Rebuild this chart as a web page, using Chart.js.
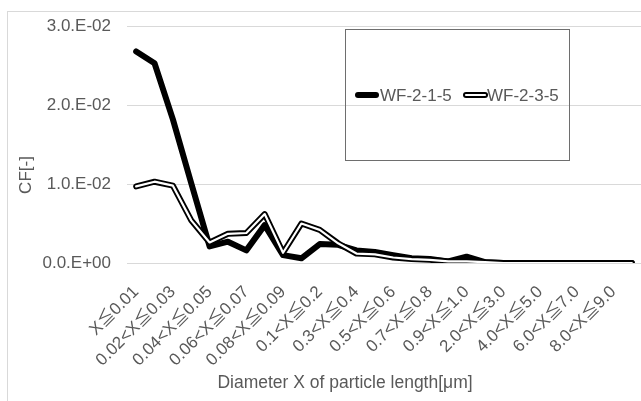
<!DOCTYPE html>
<html>
<head>
<meta charset="utf-8">
<script src="https://cdn.jsdelivr.net/npm/chart.js@4.4.1/dist/chart.umd.min.js"></script>
<style>
  html, body { margin: 0; padding: 0; background: #fff; }
  #wrap { position: relative; width: 641px; height: 401px; }
</style>
</head>
<body>
<div id="wrap"><canvas id="chart"></canvas></div>
<script>
const categories = [
  'X≦0.01', '0.01<X≦0.02', '0.02<X≦0.03', '0.03<X≦0.04', '0.04<X≦0.05',
  '0.05<X≦0.06', '0.06<X≦0.07', '0.07<X≦0.08', '0.08<X≦0.09', '0.09<X≦0.1',
  '0.1<X≦0.2', '0.2<X≦0.3', '0.3<X≦0.4', '0.4<X≦0.5', '0.5<X≦0.6',
  '0.6<X≦0.7', '0.7<X≦0.8', '0.8<X≦0.9', '0.9<X≦1.0', '1.0<X≦2.0',
  '2.0<X≦3.0', '3.0<X≦4.0', '4.0<X≦5.0', '5.0<X≦6.0', '6.0<X≦7.0',
  '7.0<X≦8.0', '8.0<X≦9.0', '9.0<X≦10.0'
];
const wf215 = [
  0.0268, 0.0253, 0.0182, 0.0101, 0.0021, 0.0027, 0.0016, 0.0048, 0.0010, 0.0006,
  0.0024, 0.0023, 0.0016, 0.0014, 0.0010, 0.0006, 0.0005, 0.0002, 0.0008, 0.0001,
  0, 0, 0, 0, 0, 0, 0, 0
];
const wf235 = [
  0.0097, 0.0103, 0.0098, 0.0054, 0.0026, 0.0037, 0.0038, 0.0062, 0.0013, 0.0050,
  0.0042, 0.0025, 0.0012, 0.0011, 0.0007, 0.0005, 0.0004, 0.0002, 0.0002, 0.0001,
  0, 0, 0, 0, 0, 0, 0, 0
];
const yTicks = [0, 0.01, 0.02, 0.03];
const seriesNames = ['WF-2-1-5', 'WF-2-3-5'];

const FONT = '"Liberation Sans", Arial, "Noto Sans CJK JP", sans-serif';
const GREY = '#595959';

function fmtExp(v){
  if(v === 0) return '0.0.E+00';
  const [m, e] = v.toExponential(1).split('e');
  const n = parseInt(e, 10);
  return m + '.E' + (n < 0 ? '-' : '+') + String(Math.abs(n)).padStart(2, '0');
}

// titles, frame and legend box drawn on top of the chart
const extras = {
  id: 'extras',
  afterDraw(chart){
    const ctx = chart.ctx;
    ctx.save();
    ctx.strokeStyle = '#d9d9d9';
    ctx.lineWidth = 1;
    ctx.strokeRect(7.5, 11.5, 700, 500);

    ctx.fillStyle = GREY;
    ctx.font = '17.5px ' + FONT;
    ctx.textAlign = 'center';
    ctx.textBaseline = 'middle';
    ctx.fillText('Diameter X of particle length[μm]', 345, 383);
    ctx.save();
    ctx.translate(26, 175);
    ctx.rotate(-Math.PI / 2);
    ctx.font = '17px ' + FONT;
    ctx.fillText('CF[-]', 0, 0);
    ctx.restore();

    // legend
    ctx.strokeStyle = '#6e6e6e';
    ctx.strokeRect(345.5, 29.5, 224, 131);
    ctx.lineCap = 'round';
    ctx.beginPath(); ctx.moveTo(358, 95); ctx.lineTo(376, 95);
    ctx.strokeStyle = '#000'; ctx.lineWidth = 6; ctx.stroke();
    ctx.beginPath(); ctx.moveTo(466, 95); ctx.lineTo(485, 95);
    ctx.lineWidth = 6; ctx.stroke();
    ctx.strokeStyle = '#fff'; ctx.lineWidth = 2.2; ctx.stroke();
    ctx.fillStyle = GREY;
    ctx.font = '17px ' + FONT;
    ctx.textAlign = 'left';
    ctx.fillText(seriesNames[0], 380, 96);
    ctx.fillText(seriesNames[1], 487, 96);
    ctx.restore();
  }
};

const lineBase = { pointRadius: 0, tension: 0, borderCapStyle: 'round', borderJoinStyle: 'round', fill: false };

new Chart(document.getElementById('chart'), {
  type: 'line',
  data: {
    labels: categories,
    datasets: [
      Object.assign({ label: seriesNames[0], data: wf215, borderColor: '#000', borderWidth: 6, order: 3 }, lineBase),
      Object.assign({ label: seriesNames[1] + ' outline', data: wf235, borderColor: '#000', borderWidth: 6, order: 2 }, lineBase),
      Object.assign({ label: seriesNames[1], data: wf235, borderColor: '#fff', borderWidth: 2.2, order: 1 }, lineBase)
    ]
  },
  options: {
    responsive: true,
    maintainAspectRatio: false,
    animation: false,
    layout: { padding: { top: 25, right: 0, bottom: 0, left: 0 } },
    plugins: { legend: { display: false }, tooltip: { enabled: false } },
    scales: {
      x: {
        offset: true,
        grid: { display: false },
        border: { display: false },
        ticks: {
          autoSkip: false,
          minRotation: 45,
          maxRotation: 45,
          padding: 11,
          color: GREY,
          font: { family: FONT, size: 17 },
          callback: (v, i) => i % 2 === 0 ? categories[i] : ''
        },
        afterFit: s => { s.height = 138; s.paddingLeft = 0; s.paddingRight = 0; }
      },
      y: {
        min: 0,
        max: 0.03,
        afterBuildTicks: s => { s.ticks = yTicks.map(v => ({ value: v })); },
        grid: { color: '#d9d9d9', lineWidth: 1, drawTicks: false },
        border: { display: false },
        ticks: {
          padding: 16,
          color: GREY,
          font: { family: FONT, size: 17 },
          callback: v => fmtExp(v)
        },
        afterFit: s => { s.width = 127; }
      }
    }
  },
  plugins: [extras]
});
</script>
</body>
</html>
